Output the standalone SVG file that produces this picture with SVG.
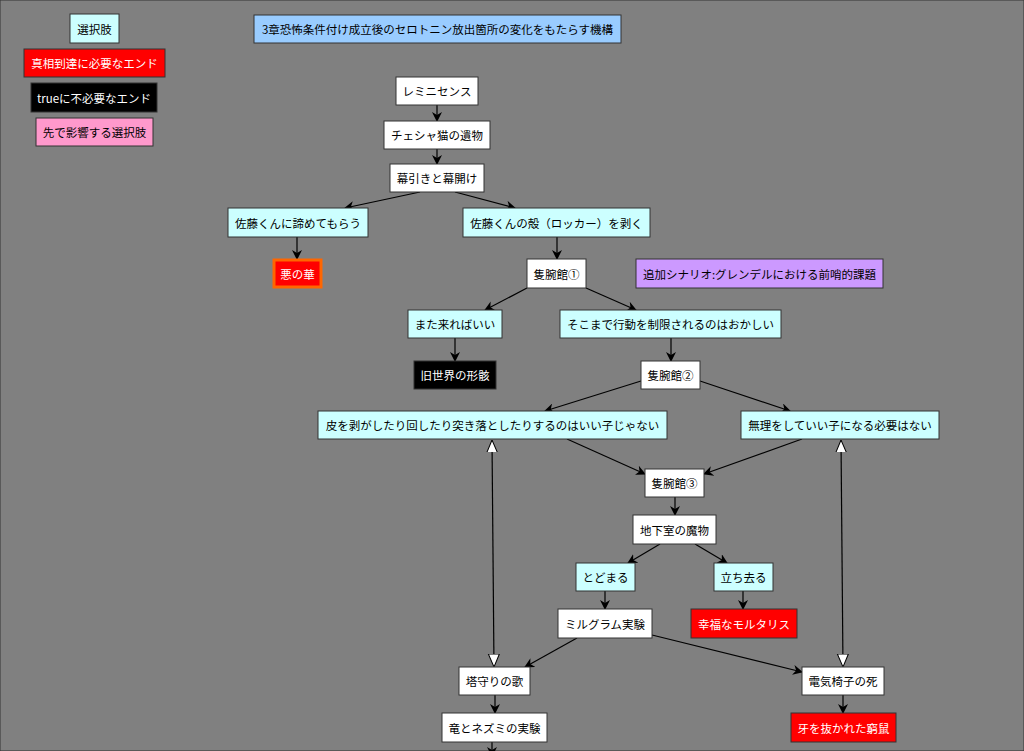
<svg xmlns="http://www.w3.org/2000/svg" width="1024" height="751" viewBox="0 0 1024 751">
<defs>
<marker id="a" markerWidth="10" markerHeight="10" refX="9" refY="5" orient="auto" markerUnits="userSpaceOnUse"><path d="M0,0 L10,5 L0,10 L3,5 Z" fill="#000"/></marker>
<marker id="h" markerWidth="12" markerHeight="14" refX="13" refY="6" orient="auto" markerUnits="userSpaceOnUse"><path d="M0,0.5 L13,6 L0,11.5 Z" fill="#fff" stroke="#000"/></marker>
<marker id="hs" markerWidth="12" markerHeight="14" refX="0" refY="6" orient="auto" markerUnits="userSpaceOnUse"><path d="M13,0.5 L0,6 L13,11.5 Z" fill="#fff" stroke="#000"/></marker>
</defs>
<style>
text{font-family:"Noto Sans CJK JP","Noto Sans",sans-serif;font-size:11.5px;text-anchor:middle;dominant-baseline:central;fill:#000}
rect{stroke:#333;stroke-width:1}
.w{fill:#fff}.c{fill:#ccffff}.r{fill:#ff0000}.k{fill:#000}.p{fill:#ff99cc}.b{fill:#99ccff}.v{fill:#cc99ff}
.wt{fill:#fff}
#edges line{stroke:#000;stroke-width:1.2;fill:none}
</style>
<rect width="1024" height="751" fill="#808080" stroke="none"/>
<g id="edges">
<line x1="437" y1="105" x2="437" y2="121" marker-end="url(#a)"/>
<line x1="437" y1="149" x2="437" y2="164" marker-end="url(#a)"/>
<line x1="420" y1="192" x2="345" y2="208" marker-end="url(#a)"/>
<line x1="455" y1="192" x2="515" y2="208" marker-end="url(#a)"/>
<line x1="297" y1="237" x2="297" y2="259" marker-end="url(#a)"/>
<line x1="557" y1="237" x2="557" y2="259" marker-end="url(#a)"/>
<line x1="527" y1="288" x2="485" y2="310" marker-end="url(#a)"/>
<line x1="586" y1="288" x2="636" y2="310" marker-end="url(#a)"/>
<line x1="455" y1="338" x2="455" y2="361" marker-end="url(#a)"/>
<line x1="671" y1="338" x2="671" y2="361" marker-end="url(#a)"/>
<line x1="641" y1="381" x2="545" y2="411" marker-end="url(#a)"/>
<line x1="700" y1="381" x2="790" y2="411" marker-end="url(#a)"/>
<line x1="567" y1="439" x2="645" y2="474" marker-end="url(#a)"/>
<line x1="802" y1="439" x2="704" y2="474" marker-end="url(#a)"/>
<line x1="675" y1="497" x2="675" y2="515" marker-end="url(#a)"/>
<line x1="660" y1="544" x2="628" y2="563" marker-end="url(#a)"/>
<line x1="695" y1="544" x2="727" y2="563" marker-end="url(#a)"/>
<line x1="605" y1="591" x2="605" y2="609" marker-end="url(#a)"/>
<line x1="743" y1="591" x2="743" y2="609" marker-end="url(#a)"/>
<line x1="577" y1="638" x2="525" y2="667" marker-end="url(#a)"/>
<line x1="652" y1="635" x2="802" y2="672" marker-end="url(#a)"/>
<line x1="495" y1="695" x2="495" y2="713" marker-end="url(#a)"/>
<line x1="843" y1="695" x2="843" y2="713" marker-end="url(#a)"/>
<line x1="492" y1="742" x2="492" y2="756" marker-end="url(#a)"/>
<line x1="492" y1="440" x2="494" y2="667" marker-start="url(#hs)" marker-end="url(#h)"/>
<line x1="841" y1="440" x2="843" y2="667" marker-start="url(#hs)" marker-end="url(#h)"/>
</g>
<g id="legend1"><rect class="c" x="70" y="14" width="49" height="29"/><text x="94.5" y="28.5">選択肢</text></g>
<g id="legend2"><rect class="r" x="24" y="49" width="141" height="28"/><text class="wt" x="94.5" y="63">真相到達に必要なエンド</text></g>
<g id="legend3"><rect class="k" x="31" y="83" width="126" height="29"/><text class="wt" x="94" y="97.5">trueに不必要なエンド</text></g>
<g id="legend4"><rect class="p" x="36" y="118" width="117" height="28"/><text x="94.5" y="132">先で影響する選択肢</text></g>
<g id="title"><rect class="b" x="254" y="15" width="367" height="28"/><text x="437.5" y="29">3章恐怖条件付け成立後のセロトニン放出箇所の変化をもたらす機構</text></g>
<g id="n1"><rect class="w" x="396" y="77" width="82" height="28"/><text x="437" y="91">レミニセンス</text></g>
<g id="n2"><rect class="w" x="384" y="121" width="106" height="28"/><text x="437" y="135">チェシャ猫の遺物</text></g>
<g id="n3"><rect class="w" x="390" y="164" width="94" height="28"/><text x="437" y="178">幕引きと幕開け</text></g>
<g id="n4"><rect class="c" x="228" y="208" width="140" height="29"/><text x="298" y="222.5">佐藤くんに諦めてもらう</text></g>
<g id="n5"><rect class="c" x="463" y="208" width="187" height="29"/><text x="556.5" y="222.5">佐藤くんの殻（ロッカー）を剥く</text></g>
<g id="n6"><rect class="r" x="274" y="260" width="47" height="27" style="stroke:#ff6600;stroke-width:3"/><text class="wt" x="297.5" y="273.5">悪の華</text></g>
<g id="n7"><rect class="w" x="527" y="259" width="59" height="29"/><text x="556.5" y="273.5">隻腕館①</text></g>
<g id="n8"><rect class="v" x="636" y="259" width="247" height="29"/><text x="759.5" y="273.5">追加シナリオ:グレンデルにおける前哨的課題</text></g>
<g id="n9"><rect class="c" x="408" y="310" width="94" height="28"/><text x="455" y="324">また来ればいい</text></g>
<g id="n10"><rect class="c" x="560" y="310" width="221" height="28"/><text x="670.5" y="324">そこまで行動を制限されるのはおかしい</text></g>
<g id="n11"><rect class="k" x="414" y="361" width="82" height="28"/><text class="wt" x="455" y="375">旧世界の形骸</text></g>
<g id="n12"><rect class="w" x="641" y="361" width="59" height="28"/><text x="670.5" y="375">隻腕館②</text></g>
<g id="n13"><rect class="c" x="318" y="411" width="349" height="28"/><text x="492.5" y="425">皮を剥がしたり回したり突き落としたりするのはいい子じゃない</text></g>
<g id="n14"><rect class="c" x="741" y="411" width="198" height="28"/><text x="840" y="425">無理をしていい子になる必要はない</text></g>
<g id="n15"><rect class="w" x="645" y="469" width="59" height="28"/><text x="674.5" y="483">隻腕館③</text></g>
<g id="n16"><rect class="w" x="633" y="515" width="83" height="29"/><text x="674.5" y="529.5">地下室の魔物</text></g>
<g id="n17"><rect class="c" x="576" y="563" width="59" height="28"/><text x="605.5" y="577">とどまる</text></g>
<g id="n18"><rect class="c" x="714" y="563" width="59" height="28"/><text x="743.5" y="577">立ち去る</text></g>
<g id="n19"><rect class="w" x="558" y="609" width="94" height="29"/><text x="605" y="623.5">ミルグラム実験</text></g>
<g id="n20"><rect class="r" x="691" y="609" width="106" height="29"/><text class="wt" x="744" y="623.5">幸福なモルタリス</text></g>
<g id="n21"><rect class="w" x="459" y="667" width="71" height="28"/><text x="494.5" y="681">塔守りの歌</text></g>
<g id="n22"><rect class="w" x="802" y="667" width="82" height="28"/><text x="843" y="681">電気椅子の死</text></g>
<g id="n23"><rect class="w" x="442" y="713" width="105" height="29"/><text x="494.5" y="727.5">竜とネズミの実験</text></g>
<g id="n24"><rect class="r" x="791" y="713" width="105" height="29"/><text class="wt" x="843.5" y="727.5">牙を抜かれた窮鼠</text></g>
</svg>
